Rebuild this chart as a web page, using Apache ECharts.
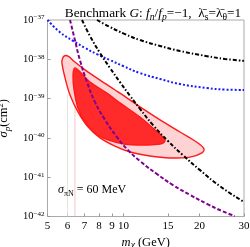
<!DOCTYPE html>
<html><head><meta charset="utf-8">
<script src="https://cdn.jsdelivr.net/npm/echarts@6/dist/echarts.min.js"></script>
<style>html,body{margin:0;padding:0;background:#fff}#c{width:250px;height:247px}</style>
</head><body><div id="c"></div>
<script>
// x: WIMP mass (GeV), y: log10 of sigma_p (cm^2)
const xTicks = [5, 6, 7, 8, 9, 10, 15, 20, 30];
const yTicks = [-42, -41, -40, -39, -38, -37];
const blueM = [5.0, 5.60, 6.31, 7.04, 7.85, 8.84, 9.96, 11.62, 13.95, 16.74, 21.4, 25.2, 30];
const blueE = [-37.0, -37.31, -37.53, -37.71, -37.87, -38.02, -38.17, -38.35, -38.50, -38.63, -38.73, -38.77, -38.78];
const blackUpM = [7.85, 8.84, 10.14, 11.62, 13.95, 16.74, 21.4, 25.2, 30];
const blackUpE = [-37.0, -37.18, -37.36, -37.51, -37.66, -37.79, -37.92, -37.99, -38.04];
const blackStM = [6.85, 7.37, 8.07, 8.84, 9.68, 10.61, 11.62, 13.07, 15.0, 17.2, 20.09, 24.1, 30];
const blackStE = [-37.0, -37.41, -37.84, -38.22, -38.58, -38.93, -39.26, -39.67, -40.08, -40.44, -40.82, -41.23, -41.63];
const purpleM = [6.14, 6.42, 6.72, 7.17, 7.71, 8.45, 9.42, 10.42, 11.62, 13.57, 15.7, 18.34, 21.4, 24.55, 27.6];
const purpleE = [-37.0, -37.51, -38.02, -38.58, -39.09, -39.54, -39.98, -40.31, -40.59, -40.92, -41.20, -41.45, -41.68, -41.86, -41.99];
const outerM = [5.71, 5.81, 6.03, 6.42, 7.04, 8.07, 9.68, 11.62, 13.95, 16.74, 19.72, 20.83, 20.46, 18.34, 15.28, 12.73, 10.61, 9.25, 8.07, 7.23, 6.60, 6.14, 5.87, 5.71];
const outerE = [-38.02, -37.92, -37.92, -38.07, -38.27, -38.53, -38.86, -39.21, -39.54, -39.85, -40.13, -40.28, -40.38, -40.49, -40.51, -40.46, -40.36, -40.21, -40.00, -39.72, -39.34, -38.91, -38.48, -38.12];
const innerM = [6.42, 6.72, 7.37, 8.60, 9.68, 11.62, 13.33, 14.33, 14.60, 13.95, 12.16, 10.14, 8.68, 7.71, 7.04, 6.60, 6.37, 6.31];
const innerE = [-38.22, -38.32, -38.58, -38.86, -39.11, -39.47, -39.80, -39.98, -40.08, -40.16, -40.18, -40.16, -40.05, -39.88, -39.60, -39.24, -38.78, -38.40];
const vlineGrayM = 6.0;
const vlinePinkM = 6.42;
const vlineE = [-42, -38.9];

const P = (m, e) => m.map((v, i) => [v, e[i]]);
const serif = '"Liberation Serif", "DejaVu Serif", serif';
const mkRich = (fs) => {
  const T = (extra) => Object.assign({ fontFamily: serif, fontSize: fs, color: '#000', fontWeight: 'normal', lineHeight: 16 }, extra || {});
  return {
    n: T(), i: T({ fontStyle: 'italic' }),
    sb: T({ fontSize: fs * 0.72, fontStyle: 'italic', verticalAlign: 'bottom', lineHeight: 11 }),
    su: T({ fontSize: fs * 0.72, verticalAlign: 'bottom', lineHeight: 11 }),
    sp: T({ fontSize: fs * 0.68, verticalAlign: 'top', lineHeight: 10 })
  };
};

function polySeries(pts, fill, z) {
  return {
    type: 'custom', z: z, silent: true, clip: true,
    data: [0],
    renderItem: function (params, api) {
      const c = pts.map(p => api.coord(p));
      return { type: 'polygon', shape: { points: c, smooth: 0.35 },
        style: { fill: fill, stroke: '#ff1a1a', lineWidth: 1.4 } };
    }
  };
}
function lineSeries(data, color, type, width, z) {
  return { type: 'line', data: data, symbol: 'none', smooth: true, z: z, silent: true, clip: true,
    lineStyle: { color: color, type: type, width: width, cap: 'butt' } };
}

const chart = echarts.init(document.getElementById('c'), null, { renderer: 'canvas' });
chart.setOption({
  animation: false,
  title: {
    text: '{n|Benchmark }{i|G}{n|: }{i|f}{sb|n}{n|/}{i|f}{sb|p}{n|=−1,  }{n|λ̄}{su|s}{n|=}{n|λ̄}{su|θ}{n|=1}',
    left: 148, top: 1, textAlign: 'center',
    textStyle: { fontWeight: 'normal', rich: mkRich(13.3) }
  },
  grid: { left: 47.5, right: 6, top: 20, bottom: 30.5, outerBoundsMode: 'none', containLabel: false, show: true, borderColor: '#aaa', borderWidth: 1, backgroundColor: 'transparent' },
  xAxis: {
    type: 'log', min: 5, max: 30, logBase: 10,
    axisLine: { show: false },
    splitLine: { show: false },
    axisTick: { inside: true, length: 3, lineStyle: { color: '#999' }, customValues: xTicks },
    axisLabel: { customValues: xTicks, fontFamily: serif, fontSize: 11, color: '#000', margin: 4, formatter: v => String(Math.round(v)) },
    name: '{i|m}{sb|χ}{n| (GeV)}', nameLocation: 'middle', nameGap: 16,
    nameTextStyle: { rich: Object.assign(mkRich(12.5), { sb: { fontFamily: serif, fontSize: 9.5, fontStyle: 'italic', color: '#000', verticalAlign: 'bottom', lineHeight: 12 } }) }
  },
  yAxis: {
    type: 'value', min: -42, max: -37, interval: 1,
    axisLine: { show: false },
    splitLine: { show: false },
    axisTick: { inside: true, length: 3, lineStyle: { color: '#999' } },
    axisLabel: { margin: 3,
      formatter: v => '{b|10}{s|' + String(Math.round(v)).replace('-', '−') + '}',
      rich: {
        b: { fontFamily: serif, fontSize: 10.5, color: '#000', lineHeight: 12 },
        s: { fontFamily: serif, fontSize: 7, color: '#000', verticalAlign: 'top', lineHeight: 8 }
      } },
    name: '{i|σ}{sb|p}{n|(cm}{sp|2}{n|)}', nameLocation: 'middle', nameGap: 27, nameRotate: 90,
    nameTextStyle: { rich: mkRich(12.5) }
  },
  graphic: [{
    type: 'text', left: 58, top: 184, z: 100,
    style: { rich: {
      n: { fontFamily: serif, fontSize: 12, fill: '#000', lineHeight: 16 },
      i: { fontFamily: serif, fontSize: 12, fontStyle: 'italic', fill: '#000', lineHeight: 16 },
      sb: { fontFamily: serif, fontSize: 8, fill: '#000', verticalAlign: 'bottom', lineHeight: 10 }
    }, text: '{i|σ}{sb|πN}{n| = 60 MeV}' }
  }],
  series: [
    lineSeries(P([vlineGrayM, vlineGrayM], vlineE), '#dddddd', 'solid', 0.8, 1),
    lineSeries(P([vlinePinkM, vlinePinkM], vlineE), '#f4b8b8', 'solid', 0.8, 1),
    polySeries(P(outerM, outerE), '#ffd3d3', 2),
    polySeries(P(innerM, innerE), '#ff2b2b', 3),
    lineSeries(P(blueM, blueE), '#1a1aff', [2, 2], 2, 5),
    lineSeries(P(blackUpM, blackUpE), '#000', [4, 2, 1.5, 2], 2, 5),
    lineSeries(P(blackStM, blackStE), '#000', [4, 2, 1.5, 2], 2, 5),
    lineSeries(P(purpleM, purpleE), '#800090', [4, 2], 2, 5)
  ]
});
</script></body></html>
